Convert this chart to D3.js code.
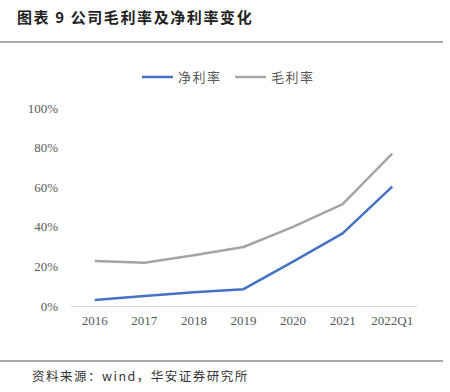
<!DOCTYPE html>
<html><head><meta charset="utf-8">
<script src="https://cdn.jsdelivr.net/npm/d3@7"></script>
<style>body{margin:0;background:#fff}svg{display:block}</style>
</head><body>
<script>
const categories = ["2016","2017","2018","2019","2020","2021","2022Q1"];
const netMargin = [3.0, 5.0, 7.0, 8.5, 22.4, 36.7, 60.3];
const grossMargin = [22.7, 21.8, 25.6, 29.8, 40.0, 51.4, 77.0];
const yTicks = [0, 20, 40, 60, 80, 100];
const seriesNames = ["净利率", "毛利率"];

const W = 450, H = 392;
const svg = d3.select("body").append("svg").attr("width", W).attr("height", H);

// title
svg.append("text").attr("x", 17).attr("y", 23)
  .attr("font-family", "Noto Sans CJK SC").attr("font-weight", "bold")
  .attr("font-size", 15).attr("letter-spacing", 1.6).attr("fill", "#222").text("图表 9  公司毛利率及净利率变化");
svg.append("line").attr("x1", 0).attr("x2", 443).attr("y1", 42).attr("y2", 42)
  .attr("stroke", "#8c8c8c").attr("stroke-width", 1.5);
svg.append("line").attr("x1", 0).attr("x2", 443).attr("y1", 361).attr("y2", 361)
  .attr("stroke", "#8c8c8c").attr("stroke-width", 1.5);
svg.append("text").attr("x", 32).attr("y", 381)
  .attr("font-family", "Noto Sans CJK SC").attr("font-size", 12.5).attr("letter-spacing", 1.5).attr("fill", "#333")
  .text("资料来源：wind，华安证券研究所");

const x = d3.scaleBand().domain(categories).range([70, 417]);
const y = d3.scaleLinear().domain([0, 100]).range([306, 108]);

// y axis labels
const ya = svg.append("g").attr("transform", "translate(58,0)")
  .call(d3.axisLeft(y).tickValues(yTicks).tickFormat(d => d + "%").tickSize(0).tickPadding(0));
ya.select(".domain").remove();
ya.selectAll("text").attr("font-family", "Liberation Serif").attr("font-size", 13).attr("fill", "#595959");

// x axis
const xa = svg.append("g").attr("transform", "translate(0,306)")
  .call(d3.axisBottom(x).tickSize(0).tickPadding(10));
xa.select(".domain").attr("stroke", "#d9d9d9").attr("stroke-width", 1.2);
xa.selectAll("text").attr("font-family", "Liberation Serif").attr("font-size", 13).attr("fill", "#595959");

const line = d3.line().x((d, i) => x(categories[i]) + x.bandwidth() / 2).y(d => y(d));
const colors = ["#4472C4", "#A5A5A5"];
[grossMargin, netMargin].forEach((s, k) => {
  svg.append("path").datum(s).attr("d", line).attr("fill", "none")
    .attr("stroke", k === 0 ? colors[1] : colors[0]).attr("stroke-width", 2.5)
    .attr("stroke-linejoin", "round");
});

// legend
const lg = [{x: 142, name: seriesNames[0], c: colors[0]}, {x: 235, name: seriesNames[1], c: colors[1]}];
lg.forEach(d => {
  svg.append("line").attr("x1", d.x).attr("x2", d.x + 31).attr("y1", 77).attr("y2", 77)
    .attr("stroke", d.c).attr("stroke-width", 2.5);
  svg.append("text").attr("x", d.x + 36).attr("y", 82)
    .attr("font-family", "Noto Sans CJK SC").attr("font-size", 13).attr("letter-spacing", 1.5).attr("fill", "#595959").text(d.name);
});
</script>
</body></html>
